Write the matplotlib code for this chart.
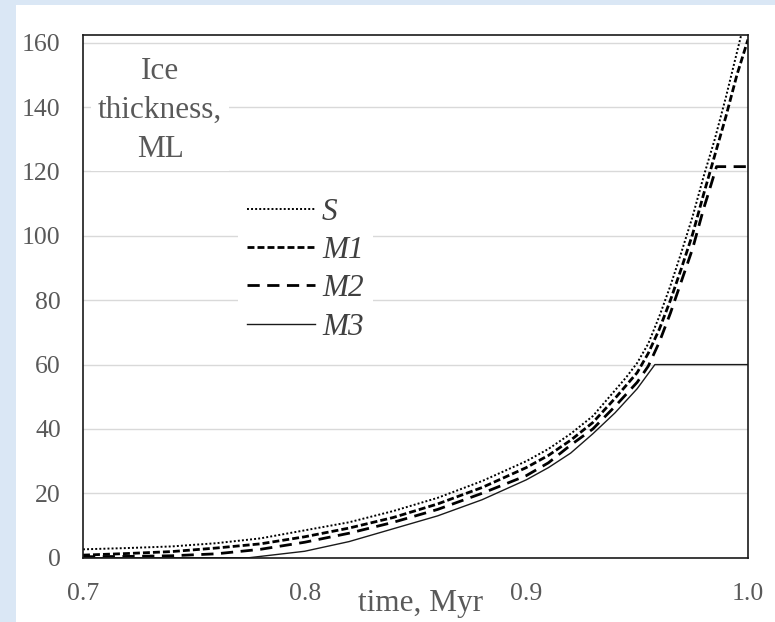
import matplotlib
matplotlib.use("Agg")
import matplotlib.pyplot as plt
from matplotlib.patches import Rectangle

plt.rcParams['font.family'] = ['Liberation Serif', 'DejaVu Serif']

# time, Myr / ice thickness, ML
t_S = [0.70, 0.72, 0.74, 0.76, 0.78, 0.80, 0.82, 0.84, 0.86, 0.88, 0.90, 0.91, 0.92,
       0.93, 0.94, 0.945, 0.95, 0.955, 0.96, 0.965, 0.97, 0.975, 0.98, 0.985, 0.99, 0.995, 1.0]
S = [2.6, 3.0, 3.5, 4.5, 6.0, 8.5, 11.0, 14.5, 18.6, 23.8, 30.0, 33.8, 38.5,
     44.0, 52.0, 56.0, 60.5, 66.5, 75.0, 84.5, 95.0, 106.0, 118.5, 130.0, 143.0, 157.0, 171.0]

t_M1 = [0.70, 0.72, 0.74, 0.76, 0.78, 0.80, 0.82, 0.84, 0.86, 0.88, 0.90, 0.91, 0.92,
        0.93, 0.94, 0.95, 0.955, 0.96, 0.965, 0.97, 0.975, 0.98, 0.985, 0.99, 0.995, 1.0]
M1 = [0.8, 1.3, 1.9, 3.0, 4.3, 6.5, 9.2, 12.5, 16.7, 21.8, 28.0, 31.8, 36.5,
      42.0, 49.5, 57.5, 63.5, 71.0, 80.0, 90.0, 100.5, 113.0, 125.0, 137.0, 150.0, 161.0]

t_M2 = [0.70, 0.72, 0.74, 0.76, 0.78, 0.80, 0.82, 0.84, 0.86, 0.88, 0.90, 0.91, 0.92,
        0.93, 0.94, 0.95, 0.955, 0.96, 0.965, 0.97, 0.975, 0.98, 0.9816, 0.9858, 1.0]
M2 = [0.3, 0.4, 0.6, 1.2, 2.6, 4.8, 7.6, 11.0, 15.0, 20.0, 25.5, 29.5, 35.0,
      40.0, 47.0, 54.5, 59.5, 67.0, 76.0, 86.0, 96.0, 108.5, 112.0, 121.5, 121.5]

t_M3 = [0.70, 0.72, 0.74, 0.76, 0.775, 0.78, 0.80, 0.82, 0.84, 0.86, 0.88, 0.90, 0.91,
        0.92, 0.93, 0.94, 0.95, 0.958, 1.0]
M3 = [0.0, 0.0, 0.0, 0.0, 0.0, 0.4, 2.0, 5.0, 9.0, 13.0, 18.0, 24.2, 28.0,
      32.5, 38.5, 45.0, 52.5, 60.0, 60.0]

x_ticks = [0.7, 0.8, 0.9, 1.0]
x_tick_labels = ['0.7', '0.8', '0.9', '1.0']
y_ticks = [0, 20, 40, 60, 80, 100, 120, 140, 160]

gray = '#595959'

fig = plt.figure(figsize=(7.75, 6.22), dpi=100, facecolor='#dae7f5')
fig.patches.append(Rectangle((16 / 775, 0), 1 - 16 / 775, 1 - 5 / 622,
                             transform=fig.transFigure, facecolor='white',
                             edgecolor='none', zorder=-10))

ax = fig.add_axes([83 / 775, 1 - 557.7 / 622, 665 / 775, 522.7 / 622])
ax.set_facecolor('white')

ax.plot(t_S, S, color='black', lw=1.4, linestyle=(0, (1, 1.1)), label='S')
ax.plot(t_M1, M1, color='black', lw=2.0, linestyle=(0, (2.5, 1.1)), label='M1')
ax.plot(t_M2, M2, color='black', lw=2.0, linestyle=(0, (4.4, 2.7)), label='M2')
ax.plot(t_M3, M3, color='#1a1a1a', lw=1.0, label='M3')

ax.set_xlim(0.7, 1.0)
ax.set_ylim(0, 162.4)
ax.set_xticks(x_ticks)
ax.set_xticklabels(x_tick_labels)
ax.set_yticks(y_ticks)
ax.tick_params(axis='both', length=0, labelsize=18.5, labelcolor=gray)
ax.tick_params(axis='x', pad=18)
ax.tick_params(axis='y', pad=16)
ax.grid(axis='y', color='#d9d9d9', lw=1)
ax.set_axisbelow(True)
for sp in ax.spines.values():
    sp.set_color('#1a1a1a')
    sp.set_linewidth(1.2)

# axis titles as free text, like the original
ax.text(0.507, -0.087, 'time, Myr', transform=ax.transAxes, ha='center', va='center',
        fontsize=22.5, color=gray)
ax.text(0.116, 0.856, 'Ice\nthickness,\nML', transform=ax.transAxes, ha='center',
        va='center', fontsize=22.5, color=gray, linespacing=1.45,
        bbox=dict(facecolor='white', edgecolor='none', pad=5))

leg = ax.legend(loc='upper left', bbox_to_anchor=(0.2325, 0.707), fontsize=22.5,
                frameon=True, facecolor='white', edgecolor='none', framealpha=1,
                handlelength=2.18, handletextpad=0.22, labelspacing=0.3,
                borderpad=0.3, borderaxespad=0, fancybox=False)
for txt in leg.get_texts():
    txt.set_fontstyle('italic')
    txt.set_color('#404040')

fig.savefig('out.png', dpi=100, facecolor=fig.get_facecolor())
